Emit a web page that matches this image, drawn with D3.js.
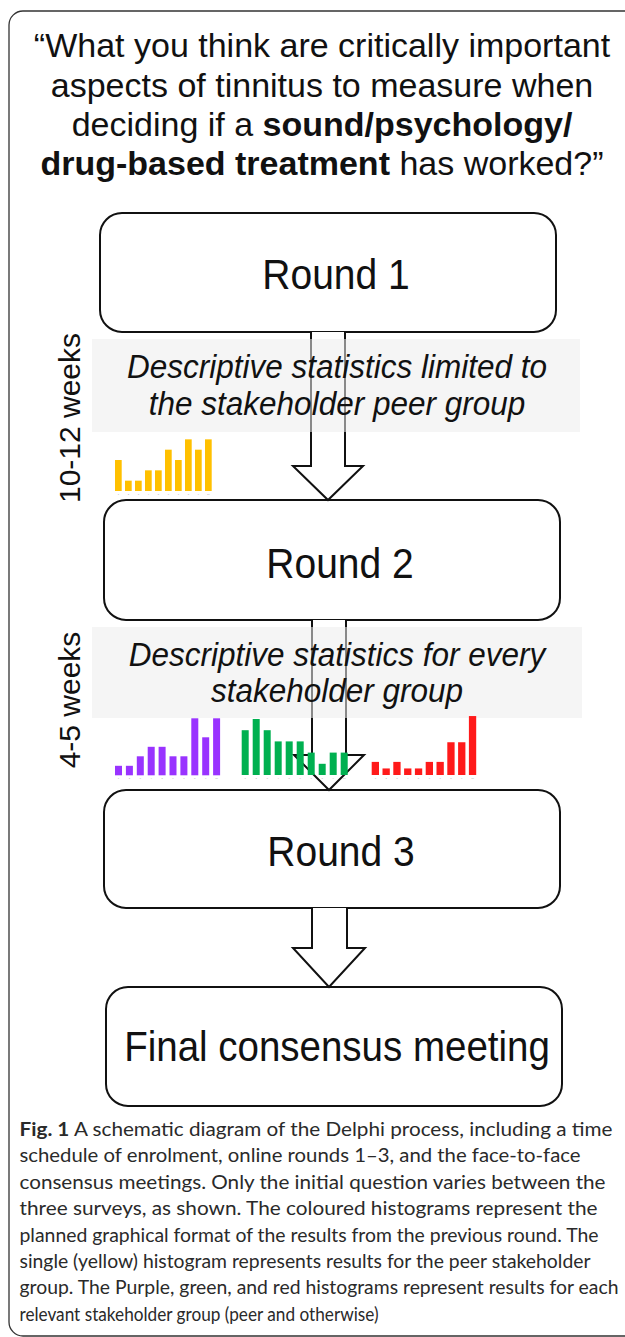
<!DOCTYPE html>
<html>
<head>
<meta charset="utf-8">
<script src="https://cdn.jsdelivr.net/npm/d3@7"></script>
<style>
  html, body { margin: 0; padding: 0; background: #fff; }
  svg { display: block; }
</style>
</head>
<body>
<svg id="chart" width="625" height="1337"></svg>
<script>
// ---- data ----
const binLabels = ["1","2","3","4","5","6","7","8","9","10"];
const yellowValues = [3, 1, 1, 2, 2, 4, 3, 5, 4, 5];
const purpleValues = [1, 1, 2, 3, 3, 2, 2, 6, 4, 6];
const greenValues  = [4, 5, 4, 3, 3, 3, 2, 1, 2, 2];
const redValues    = [2, 1, 2, 1, 1, 2, 2, 5, 5, 9];

const titleLines = [
  [{t: "\u201CWhat you think are critically important", b: false}],
  [{t: "aspects of tinnitus to measure when", b: false}],
  [{t: "deciding if a ", b: false}, {t: "sound/psychology/", b: true}],
  [{t: "drug-based treatment", b: true}, {t: " has worked?\u201D", b: false}]
];
const roundLabels = ["Round 1", "Round 2", "Round 3", "Final consensus meeting"];
const bandTexts = [
  ["Descriptive statistics limited to", "the stakeholder peer group"],
  ["Descriptive statistics for every", "stakeholder group"]
];
const intervalLabels = ["10-12 weeks", "4-5 weeks"];
const captionLines = [
  "A schematic diagram of the Delphi process, including a time",
  "schedule of enrolment, online rounds 1\u20133, and the face-to-face",
  "consensus meetings. Only the initial question varies between the",
  "three surveys, as shown. The coloured histograms represent the",
  "planned graphical format of the results from the previous round. The",
  "single (yellow) histogram represents results for the peer stakeholder",
  "group. The Purple, green, and red histograms represent results for each",
  "relevant stakeholder group (peer and otherwise)"
];

// ---- layout ----
const svg = d3.select("#chart");
const sans = "'Liberation Sans', Arial, Helvetica, sans-serif";

// outer frame
svg.append("rect")
  .attr("x", 9).attr("y", 11).attr("width", 660).attr("height", 1325)
  .attr("rx", 14).attr("fill", "none").attr("stroke", "#333").attr("stroke-width", 1.3);

// title
const titleY = [57, 96.5, 135.5, 174.5];
const title = svg.append("g");
titleLines.forEach((parts, i) => {
  const t = title.append("text")
    .attr("x", 322).attr("y", titleY[i])
    .attr("text-anchor", "middle")
    .attr("font-family", sans).attr("font-size", 34).attr("fill", "#111");
  parts.forEach(p => t.append("tspan").attr("font-weight", p.b ? "bold" : "normal").text(p.t));
});

// boxes
const boxes = [
  {x: 100, y: 213, w: 456, h: 119, tx: 336, ty: 289},
  {x: 104, y: 500, w: 456, h: 120, tx: 340, ty: 578},
  {x: 104, y: 790, w: 456, h: 118, tx: 341, ty: 866},
  {x: 106, y: 987, w: 456, h: 119, tx: 337, ty: 1061}
];
const boxG = svg.append("g");
boxes.forEach((b, i) => {
  boxG.append("rect").attr("x", b.x).attr("y", b.y).attr("width", b.w).attr("height", b.h)
    .attr("rx", 22).attr("fill", "#fff").attr("stroke", "#111").attr("stroke-width", 2);
  boxG.append("text").attr("transform", `translate(${b.tx},${b.ty}) scale(1,1.08)`)
    .attr("text-anchor", "middle").attr("font-family", sans)
    .attr("font-size", i === 3 ? 38.5 : 39).attr("fill", "#111").text(roundLabels[i]);
});

// arrows
const arrows = [
  {l: 311, r: 345, y0: 332, yh: 466, wl: 293, wr: 363, tip: 500},
  {l: 312, r: 346, y0: 620, yh: 755, wl: 294, wr: 364, tip: 790},
  {l: 312, r: 347, y0: 908, yh: 948, wl: 293, wr: 365, tip: 987}
];
const arrowG = svg.append("g");
arrows.forEach(a => {
  const cx = (a.wl + a.wr) / 2;
  const pts = [[a.l, a.y0], [a.l, a.yh], [a.wl, a.yh], [cx, a.tip], [a.wr, a.yh], [a.r, a.yh], [a.r, a.y0]];
  arrowG.append("path").attr("d", d3.line()(pts))
    .attr("fill", "#fff").attr("stroke", "#111").attr("stroke-width", 2).attr("stroke-linejoin", "miter");
});

// translucent bands with italic text
const bands = [
  {x: 92, y: 339, w: 488, h: 93, ty: [378, 415]},
  {x: 92, y: 627, w: 490, h: 91, ty: [666, 702]}
];
bands.forEach((b, i) => {
  svg.append("rect").attr("x", b.x).attr("y", b.y).attr("width", b.w).attr("height", b.h)
    .attr("fill", "#ececec").attr("opacity", 0.55);
  bandTexts[i].forEach((line, j) => {
    svg.append("text").attr("transform", `translate(337,${b.ty[j]}) scale(1,1.08)`).attr("text-anchor", "middle")
      .attr("font-family", sans).attr("font-style", "italic").attr("font-size", 31.5)
      .attr("fill", "#111").text(line);
  });
});

// interval labels (rotated)
const intervals = [{x: 80, y: 418}, {x: 80, y: 700}];
intervals.forEach((p, i) => {
  svg.append("text").attr("transform", `translate(${p.x},${p.y}) rotate(-90)`)
    .attr("text-anchor", "middle").attr("font-family", sans).attr("font-size", 30)
    .attr("fill", "#111").text(intervalLabels[i]);
});

// histograms
function histogram(values, color, left, step, barW, base, unit) {
  const g = svg.append("g");
  const gap = step - barW;
  const x = d3.scaleBand().domain(binLabels)
    .range([left - gap / 2, left - gap / 2 + step * binLabels.length])
    .paddingInner(gap / step).paddingOuter(gap / step / 2);
  const y = d3.scaleLinear().domain([0, d3.max(values)]).range([base, base - unit * d3.max(values)]);
  g.selectAll("rect").data(values).join("rect")
    .attr("x", (d, i) => x(binLabels[i]))
    .attr("y", d => y(d))
    .attr("width", x.bandwidth())
    .attr("height", d => y(0) - y(d))
    .attr("fill", color);
  const ax = g.append("g").attr("transform", `translate(0,${base})`)
    .call(d3.axisBottom(x).tickSize(0).tickPadding(2));
  ax.select(".domain").remove();
  ax.selectAll("text").attr("font-size", 2.5).attr("fill", "#aaa").attr("font-family", sans);
}
histogram(yellowValues, "#ffc000", 115, 10, 6.7, 491, 10.33);
histogram(purpleValues, "#9933ff", 115, 10.9, 7, 775.3, 9.5);
histogram(greenValues, "#00b050", 241.7, 11, 7, 775, 11.2);
histogram(redValues, "#ff1a1a", 371.7, 10.8, 7.3, 775, 6.55);

// caption
const capY0 = 1136, capDy = 26.4;
const capWidths = [593, 561, 586, 578, 579, 571, 599, 359];
captionLines.forEach((line, i) => {
  const t = svg.append("text").attr("x", 19.5).attr("y", capY0 + i * capDy)
    .attr("font-family", "Lato, 'Open Sans', sans-serif").attr("font-size", 19.5)
    .attr("fill", "#2a2a2a")
    .attr("textLength", capWidths[i]).attr("lengthAdjust", "spacingAndGlyphs");
  if (i === 0) {
    t.append("tspan").attr("font-weight", "bold").text("Fig. 1");
    t.append("tspan").text(" " + line);
  } else {
    t.text(line);
  }
});
</script>
</body>
</html>
